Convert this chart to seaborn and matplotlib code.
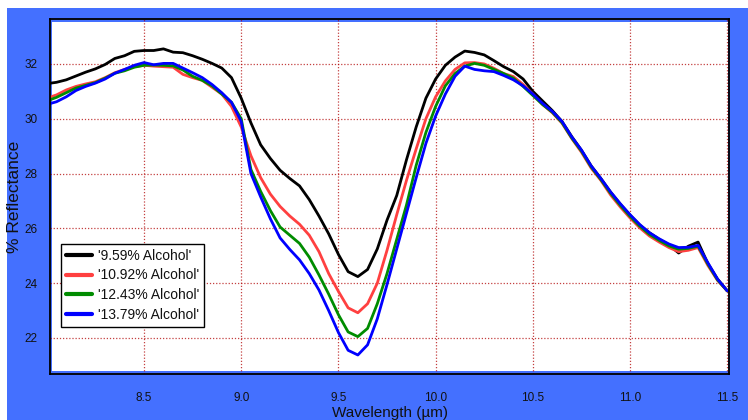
import numpy as np
import pandas as pd
import matplotlib
matplotlib.use("Agg")
import matplotlib.pyplot as plt
from matplotlib.patches import Rectangle
import seaborn as sns

# ---------------- data ----------------
wavelength = [8.00, 8.05, 8.10, 8.15, 8.20, 8.25, 8.30, 8.35, 8.40, 8.45,
              8.50, 8.55, 8.60, 8.65, 8.70, 8.75, 8.80, 8.85, 8.90, 8.95,
              9.00, 9.05, 9.10, 9.15, 9.20, 9.25, 9.30, 9.35, 9.40, 9.45,
              9.50, 9.55, 9.60, 9.65, 9.70, 9.75, 9.80, 9.85, 9.90, 9.95,
              10.00, 10.05, 10.10, 10.15, 10.20, 10.25, 10.30, 10.35, 10.40, 10.45,
              10.50, 10.55, 10.60, 10.65, 10.70, 10.75, 10.80, 10.85, 10.90, 10.95,
              11.00, 11.05, 11.10, 11.15, 11.20, 11.25, 11.30, 11.35, 11.40, 11.45,
              11.50]

alc_959 = [31.28, 31.33, 31.42, 31.56, 31.70, 31.82, 31.98, 32.20, 32.30, 32.46,
           32.49, 32.49, 32.55, 32.43, 32.41, 32.30, 32.17, 32.02, 31.85, 31.50,
           30.75, 29.85, 29.05, 28.55, 28.12, 27.82, 27.55, 27.05, 26.45, 25.80,
           25.05, 24.42, 24.24, 24.50, 25.25, 26.30, 27.20, 28.50, 29.70, 30.75,
           31.45, 31.95, 32.25, 32.47, 32.42, 32.33, 32.12, 31.90, 31.72, 31.45,
           31.00, 30.65, 30.30, 29.90, 29.35, 28.85, 28.28, 27.82, 27.32, 26.88,
           26.48, 26.12, 25.84, 25.60, 25.40, 25.10, 25.35, 25.50, 24.72, 24.15,
           23.72]

alc_1092 = [30.75, 30.87, 31.05, 31.18, 31.27, 31.35, 31.50, 31.68, 31.80, 31.90,
            31.95, 31.92, 31.90, 31.88, 31.62, 31.50, 31.40, 31.15, 30.90, 30.45,
            29.70, 28.65, 27.85, 27.25, 26.80, 26.45, 26.15, 25.75, 25.15, 24.35,
            23.70, 23.10, 22.92, 23.25, 24.00, 25.20, 26.50, 27.75, 28.90, 30.00,
            30.80, 31.38, 31.80, 32.04, 32.05, 32.00, 31.84, 31.65, 31.54, 31.25,
            30.90, 30.52, 30.22, 29.84, 29.28, 28.78, 28.20, 27.75, 27.22, 26.78,
            26.38, 26.02, 25.72, 25.50, 25.30, 25.15, 25.20, 25.30, 24.65, 24.10,
            23.72]

alc_1243 = [30.65, 30.78, 30.95, 31.12, 31.22, 31.32, 31.48, 31.66, 31.75, 31.88,
            31.95, 31.96, 31.95, 31.93, 31.78, 31.55, 31.40, 31.20, 30.90, 30.60,
            30.00, 28.15, 27.35, 26.65, 26.05, 25.75, 25.45, 24.95, 24.30, 23.60,
            22.85, 22.22, 22.05, 22.35, 23.25, 24.35, 25.60, 26.85, 28.30, 29.50,
            30.45, 31.20, 31.65, 31.92, 32.02, 31.95, 31.80, 31.65, 31.48, 31.18,
            30.85, 30.52, 30.24, 29.86, 29.30, 28.82, 28.24, 27.78, 27.28, 26.84,
            26.44, 26.08, 25.78, 25.56, 25.36, 25.24, 25.27, 25.35, 24.70, 24.12,
            23.72]

alc_1379 = [30.52, 30.62, 30.80, 31.03, 31.18, 31.30, 31.45, 31.66, 31.80, 31.95,
            32.05, 31.97, 32.02, 32.02, 31.85, 31.68, 31.50, 31.25, 30.95, 30.60,
            29.90, 28.00, 27.15, 26.35, 25.65, 25.23, 24.85, 24.35, 23.75, 23.00,
            22.20, 21.55, 21.38, 21.75, 22.70, 23.95, 25.25, 26.55, 27.85, 29.10,
            30.10, 30.90, 31.55, 31.92, 31.80, 31.75, 31.72, 31.58, 31.42, 31.20,
            30.90, 30.56, 30.27, 29.90, 29.34, 28.86, 28.28, 27.82, 27.33, 26.90,
            26.50, 26.14, 25.84, 25.62, 25.43, 25.30, 25.31, 25.38, 24.75, 24.15,
            23.72]

series_labels = ["'9.59% Alcohol'", "'10.92% Alcohol'", "'12.43% Alcohol'", "'13.79% Alcohol'"]
series_values = [alc_959, alc_1092, alc_1243, alc_1379]
series_colors = ["#000000", "#FF4040", "#008C00", "#0000FF"]

xticks = [8.5, 9.0, 9.5, 10.0, 10.5, 11.0, 11.5]
yticks = [22, 24, 26, 28, 30, 32]

# ---------------- long-form table ----------------
frames = []
for lab, vals in zip(series_labels, series_values):
    frames.append(pd.DataFrame({"Wavelength": wavelength, "Reflectance": vals, "Series": lab}))
df = pd.concat(frames, ignore_index=True)

# ---------------- style ----------------
sns.set_theme(style="white")
plt.rcParams["font.family"] = ["Liberation Sans", "DejaVu Sans"]

W, H = 748, 420
fig = plt.figure(figsize=(W / 100, H / 100), dpi=100)
fig.patch.set_facecolor("white")
fig.patches.append(Rectangle((7 / W, 0), 741 / W, 412 / H, transform=fig.transFigure,
                             facecolor="#4470FF", edgecolor="none", zorder=-10))

ax = fig.add_axes([50 / W, 1 - 374 / H, 679 / W, 355 / H])
ax.set_facecolor("none")
ax.add_patch(Rectangle((2 / 679, 3 / 355), 676 / 679, 349 / 355, transform=ax.transAxes,
                       facecolor="white", edgecolor="none", zorder=-5))

sns.lineplot(data=df, x="Wavelength", y="Reflectance", hue="Series",
             palette=dict(zip(series_labels, series_colors)), hue_order=series_labels,
             sort=False, linewidth=2.0, ax=ax, legend=True)

ax.set_xlim(8.0165, 11.509)
ax.set_ylim(20.686, 33.64)
ax.set_xticks(xticks)
ax.set_xticklabels([f"{t:.1f}" for t in xticks])
ax.set_yticks(yticks)
ax.set_yticklabels([str(t) for t in yticks])

ax.grid(True, which="major", color="#B00000", linestyle=(0, (1, 1.5)), linewidth=0.9, alpha=0.75)
ax.set_axisbelow(True)

for s in ax.spines.values():
    s.set_visible(True)
    s.set_color("black")
    s.set_linewidth(1.3)

ax.tick_params(axis="both", which="major", direction="out", length=7.2, width=1.0,
               color="black", labelsize=8.5, labelcolor="#111111")
ax.tick_params(axis="x", pad=5.5)
ax.tick_params(axis="y", pad=1.5)

ax.set_xlabel("Wavelength (µm)", fontsize=11, labelpad=1.5, color="#111111")
ax.set_ylabel("% Reflectance", fontsize=12.5, labelpad=2, color="#111111")

leg = ax.legend(loc="upper left", bbox_to_anchor=(0.016, 0.367), borderaxespad=0,
                frameon=True, fancybox=False, fontsize=10, handlelength=1.9,
                handletextpad=0.45, labelspacing=0.42, borderpad=0.35)
leg.get_frame().set_edgecolor("black")
leg.get_frame().set_linewidth(1.0)
leg.get_frame().set_facecolor("white")
leg.get_frame().set_alpha(1)
for line in leg.get_lines():
    line.set_linewidth(3)
for txt in leg.get_texts():
    txt.set_color("#111111")

fig.savefig("out.png", dpi=100)
